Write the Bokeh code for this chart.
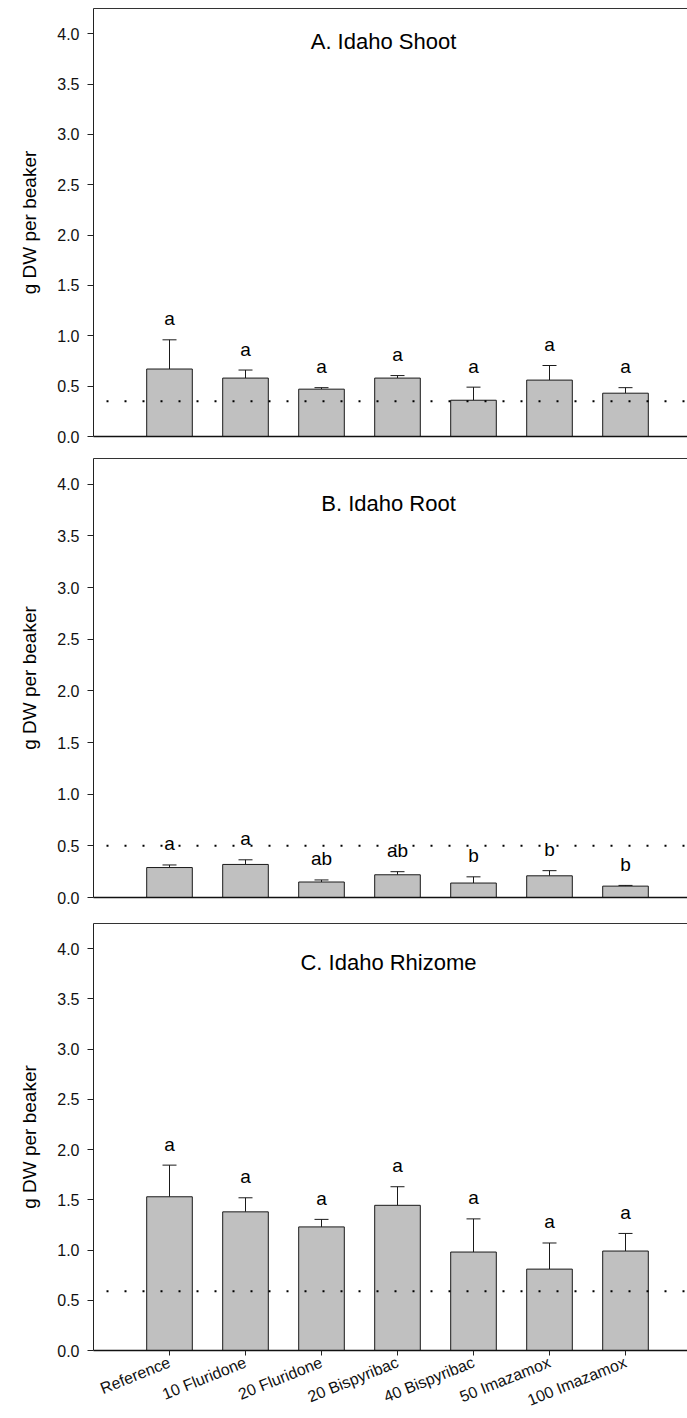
import math
from bokeh.plotting import figure
from bokeh.models import (ColumnDataSource, Whisker, TeeHead, LinearAxis, FixedTicker,
                          Range1d, Label, Span, NumeralTickFormatter)
from bokeh.layouts import column
from bokeh.embed import file_html
from bokeh.resources import INLINE
from bokeh.core.properties import value

# ---------------- data ----------------
treatments = ["Reference", "10 Fluridone", "20 Fluridone", "20 Bispyribac",
              "40 Bispyribac", "50 Imazamox", "100 Imazamox"]

shoot_mean = [0.67, 0.58, 0.47, 0.58, 0.36, 0.56, 0.43]
shoot_se = [0.29, 0.08, 0.015, 0.025, 0.13, 0.145, 0.055]
shoot_letters = ["a", "a", "a", "a", "a", "a", "a"]
shoot_ref = 0.35

root_mean = [0.29, 0.32, 0.15, 0.22, 0.14, 0.21, 0.11]
root_se = [0.025, 0.045, 0.02, 0.03, 0.06, 0.05, 0.007]
root_letters = ["a", "a", "ab", "ab", "b", "b", "b"]
root_ref = 0.50

rhizome_mean = [1.53, 1.38, 1.23, 1.445, 0.98, 0.81, 0.99]
rhizome_se = [0.315, 0.14, 0.075, 0.185, 0.33, 0.26, 0.175]
rhizome_letters = ["a", "a", "a", "a", "a", "a", "a"]
rhizome_ref = 0.59

y_ticks = [0.0, 0.5, 1.0, 1.5, 2.0, 2.5, 3.0, 3.5, 4.0]

FONT = "Liberation Sans"
PX_PER_CAT = 76.0
WIN_W = 687


def bare_axis(color):
    ax = LinearAxis(ticker=FixedTicker(ticks=[]))
    ax.major_label_standoff = 0
    ax.major_tick_out = 0
    ax.major_tick_in = 0
    ax.major_tick_line_color = None
    ax.minor_tick_line_color = None
    ax.axis_line_color = color
    return ax


def panel(title, means, ses, letters, ref, left, top, frame_h, bottom,
          title_y, show_x):
    xs = list(range(1, len(treatments) + 1))
    src = ColumnDataSource(dict(
        x=xs, mean=means, upper=[m + s for m, s in zip(means, ses)],
        letter=letters))
    frame_w = WIN_W - left
    p = figure(output_backend="svg", toolbar_location=None,
               frame_width=frame_w, frame_height=frame_h,
               min_border_left=left, min_border_right=0,
               min_border_top=top, min_border_bottom=bottom,
               x_range=Range1d(0, frame_w / PX_PER_CAT),
               y_range=Range1d(0, 4.25),
               x_axis_type=None, y_axis_type=None)
    p.outline_line_color = None
    p.xgrid.visible = False
    p.ygrid.visible = False
    p.background_fill_color = "white"
    p.border_fill_color = "white"

    # y axis
    ya = LinearAxis(ticker=FixedTicker(ticks=y_ticks),
                    formatter=NumeralTickFormatter(format="0.0"))
    ya.axis_label = "g DW per beaker"
    ya.axis_label_text_font = FONT
    ya.axis_label_text_font_style = "normal"
    ya.axis_label_text_font_size = "19px"
    ya.axis_label_text_color = "black"
    ya.axis_label_standoff = 14
    ya.major_label_text_font = FONT
    ya.major_label_text_font_size = "16px"
    ya.major_label_text_color = "#111111"
    ya.major_label_standoff = 8
    ya.major_tick_out = 6
    ya.major_tick_in = 0
    ya.minor_tick_line_color = None
    ya.axis_line_color = "#222222"
    ya.major_tick_line_color = "#222222"
    p.add_layout(ya, "left")

    # x axis
    if show_x:
        xa = LinearAxis(ticker=FixedTicker(ticks=xs))
        xa.minor_tick_line_color = None
        xa.axis_line_color = "#111111"
        xa.axis_line_width = 1.5
        xa.major_label_overrides = {i: t for i, t in zip(xs, treatments)}
        xa.major_label_orientation = math.radians(22)
        xa.major_label_text_font = FONT
        xa.major_label_text_font_size = "16px"
        xa.major_label_text_color = "#111111"
        xa.major_label_standoff = 6
        xa.major_tick_out = 5
        xa.major_tick_in = 0
        xa.major_tick_line_color = "#222222"
    else:
        xa = bare_axis("#111111")
        xa.axis_line_width = 1.5
    p.add_layout(xa, "below")

    # top border
    p.add_layout(bare_axis("#333333"), "above")

    # bars
    p.vbar(x="x", top="mean", bottom=0, width=0.6, source=src,
           fill_color="#c0c0c0", line_color="#1a1a1a", line_width=1)

    # error bars (upper only)
    w = Whisker(base="x", lower="mean", upper="upper", source=src,
                line_color="#1a1a1a", line_width=1,
                upper_head=TeeHead(size=14, line_color="#1a1a1a", line_width=1),
                lower_head=None)
    p.add_layout(w)

    # reference dotted line
    p.add_layout(Span(location=ref, dimension="width", line_color="black",
                      line_width=2, line_dash="2 16", line_dash_offset=5))

    # significance letters
    p.text(x="x", y="upper", text="letter", source=src,
           text_align="center", text_baseline="alphabetic", y_offset=-21,
           text_font=value(FONT), text_font_size="19px", text_color="black")

    # panel title
    p.add_layout(Label(x=(383 - left) / PX_PER_CAT, y=title_y, text=title,
                       text_align="center", text_baseline="middle",
                       text_font=FONT, text_font_size="22px",
                       text_color="black"))
    return p


pA = panel("A. Idaho Shoot", shoot_mean, shoot_se, shoot_letters, shoot_ref,
           left=93, top=8, frame_h=428, bottom=12, title_y=3.92, show_x=False)
pB = panel("B. Idaho Root", root_mean, root_se, root_letters, root_ref,
           left=88, top=10, frame_h=439, bottom=12, title_y=3.81, show_x=False)
pC = panel("C. Idaho Rhizome", rhizome_mean, rhizome_se, rhizome_letters,
           rhizome_ref, left=88, top=14, frame_h=427, bottom=68, title_y=3.86,
           show_x=True)

layout = column(pA, pB, pC, spacing=0)

html = file_html(layout, INLINE, title="Idaho biomass")
html = html.replace("<body>", "<body style=\"margin:0;padding:0;\">")
open("out.html", "w").write(html)
